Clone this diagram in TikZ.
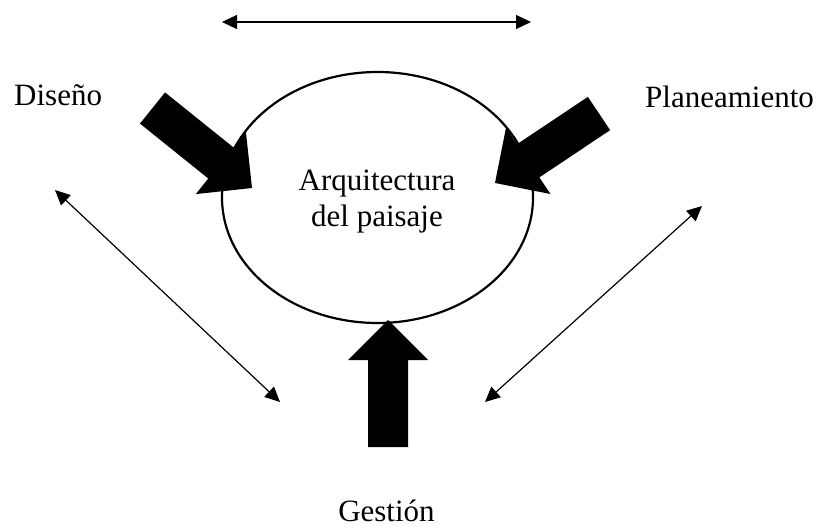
\documentclass[tikz,border=0pt]{standalone}
\usepackage{fontspec}
\setmainfont{Liberation Serif}
\usetikzlibrary{calc,arrows.meta,shapes.geometric}
\tikzset{
  thinarrow/.style={line width=1.2pt,{Triangle[length=15pt,width=14pt]}-{Triangle[length=15pt,width=14pt]}},
  lbl/.style={inner sep=0pt,font=\fontsize{31}{36}\selectfont},
  ring/.style={draw,ellipse,line width=2.2pt,inner sep=0pt,minimum width=311pt,minimum height=251pt}
}
\newcommand\fatarrow[2]{%
  \coordinate (fa-t) at #1;
  \coordinate (fa-p) at #2;
  \coordinate (fa-b) at ($(fa-p)!40pt!(fa-t)$);
  \fill ($(fa-t)!20pt!90:(fa-p)$) -- ($(fa-b)!20pt!-90:(fa-t)$) -- ($(fa-b)!40pt!-90:(fa-t)$) -- (fa-p)
     -- ($(fa-b)!40pt!90:(fa-t)$) -- ($(fa-b)!20pt!90:(fa-t)$) -- ($(fa-t)!20pt!-90:(fa-p)$) -- cycle;
}
\begin{document}
\begin{tikzpicture}[x=1pt,y=-1pt]
\useasboundingbox (0,0) rectangle (822,527);
% ellipse
\node[ring] (arq) at (377.5,197.5) {};
\node[lbl,align=center] (txt) at (377,202) {Arquitectura\\del paisaje};
% labels
\node[lbl,anchor=base west] (dis) at (14,105) {Diseño};
\node[lbl,anchor=base west] (pla) at (645,107) {Planeamiento};
\node[lbl,anchor=base] (ges) at (386.5,521) {Gestión};
% thin double arrows
\coordinate (tl) at (222,22);
\coordinate (tr) at (531,22);
\coordinate (lu) at (55,190);
\coordinate (ld) at (280,402);
\coordinate (ru) at (702,206);
\coordinate (rd) at (485,402);
\draw[thinarrow] (tl) -- (tr);
\draw[thinarrow] (lu) -- (ld);
\draw[thinarrow] (ru) -- (rd);
% block arrows
\fatarrow{(152.5,108)}{(252,188)}
\fatarrow{(599,113.5)}{(495,183)}
\fatarrow{(388,447)}{(388,320)}
\end{tikzpicture}
\end{document}
